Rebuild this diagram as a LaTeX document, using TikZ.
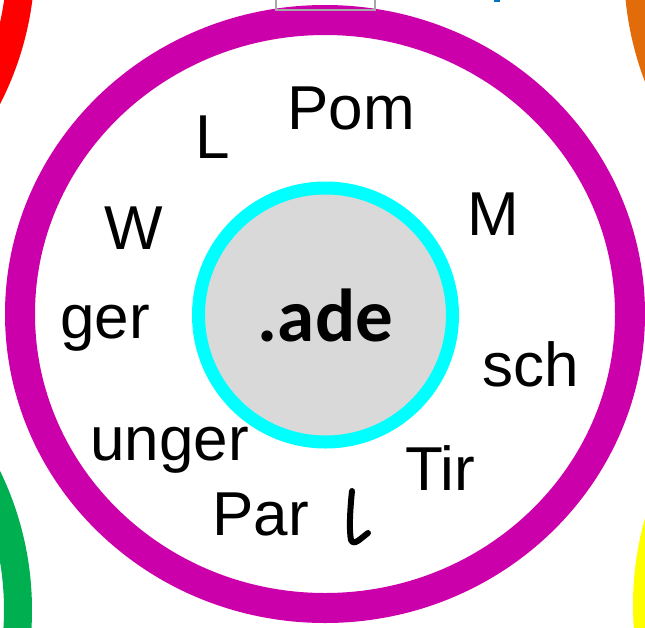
\documentclass[tikz,border=0pt]{standalone}
\usepackage{fontspec}
\newfontfamily\arialfont{Liberation Sans}
\newfontfamily\calfont{Carlito}
\definecolor{ringMag}{HTML}{CC00AA}
\definecolor{ringRed}{HTML}{FF0000}
\definecolor{ringOrange}{HTML}{E36C0A}
\definecolor{ringGreen}{HTML}{00B050}
\definecolor{ringYellow}{HTML}{FFFF00}
\definecolor{ringBlue}{HTML}{0070C0}
\definecolor{ringCyan}{HTML}{00FFFF}
\definecolor{hubGrey}{HTML}{D9D9D9}
\definecolor{frameGrey}{HTML}{A6A6A6}
\tikzset{
  ring/.style={line width=28pt},
  word/.style={font=\arialfont\fontsize{62}{70}\selectfont, anchor=base west,
              inner sep=0pt, text=black},
  hub/.style={circle, draw=ringCyan, line width=13pt, fill=hubGrey,
              minimum size=254pt, inner sep=0pt,
              font=\calfont\bfseries\fontsize{75}{80}\selectfont},
  ink/.style={line width=6pt, line cap=round, line join=round},
}

\begin{document}
\begin{tikzpicture}[x=1pt,y=-1pt]
  \useasboundingbox (0,0) rectangle (645,627);
  \begin{scope}
    \clip (0,0) rectangle (645,627);
    % neighbouring rings
    \foreach \c/\x/\y in {ringRed/-283/-41, ringOrange/942/-32,
                          ringGreen/-286/610, ringYellow/951/605}{
      \draw[ring, draw=\c] (\x,\y) circle [radius=304pt];
    }
    \fill[ringBlue] (494,0) rectangle (500,1.8);
    % main ring
    \draw[line width=30pt, draw=ringMag] (325,314) ellipse [x radius=305pt, y radius=294pt];
    \draw[frameGrey, line width=1.3pt] (276,-5) rectangle (375,10);
  \end{scope}
  % hub
  \node[hub] (hub) at (325.5,315) {.ade};
  % words round the hub
  \foreach \t/\x/\y [count=\i] in {Pom/287/129, L/195/158, M/467/235, W/104/249,
                                  ger/60/338, sch/482/386, unger/90/460,
                                  Tir/405/490, Par/212/535}{
    \node[word] (word\i) at (\x,\y) {\t};
  }
  % handwritten l
  \draw[ink] (352,491) .. controls (350,510) and (349,530) .. (351,540)
             .. controls (354,546) and (360,539) .. (368,533);
\end{tikzpicture}
\end{document}
